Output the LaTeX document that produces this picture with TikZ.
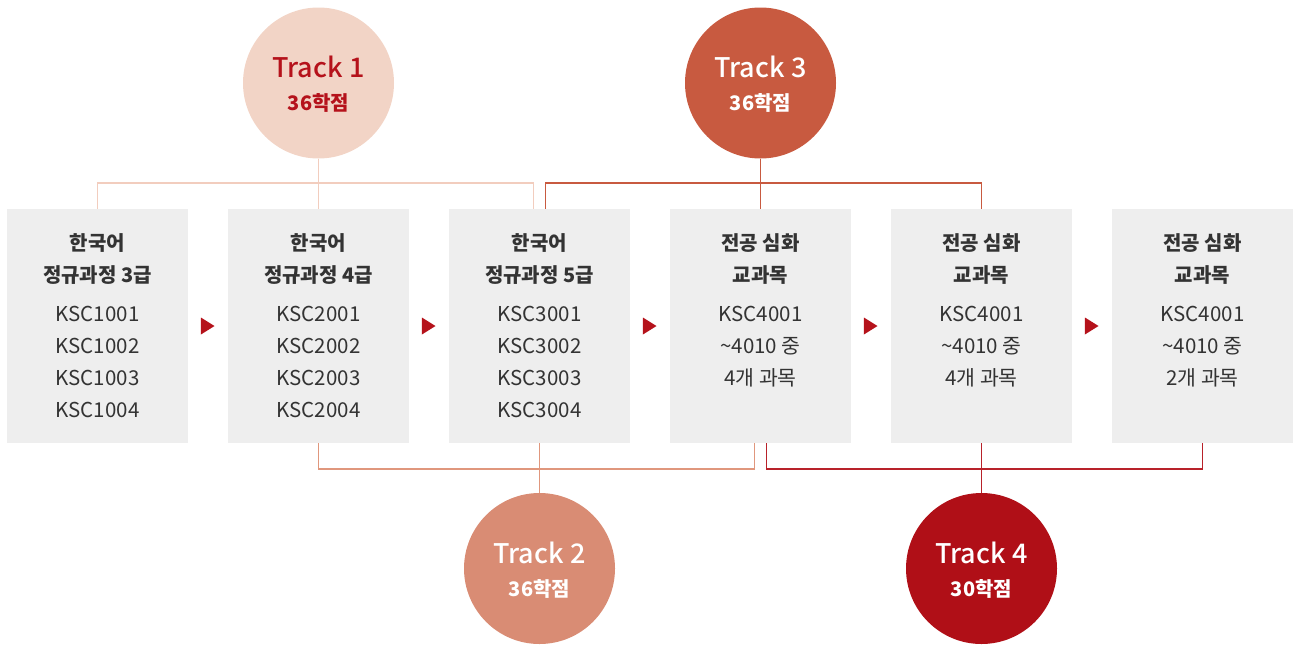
\documentclass[tikz,border=0pt]{standalone}
\usepackage{fontspec}
\setmainfont{Noto Sans CJK KR}
\newfontfamily\trackfont{Noto Sans CJK KR Medium}
\definecolor{boxgray}{HTML}{EEEEEE}
\definecolor{txtgray}{HTML}{333333}
\definecolor{tcolA}{HTML}{F2D4C6}
\definecolor{tcolB}{HTML}{D98C74}
\definecolor{tcolC}{HTML}{C85A40}
\definecolor{tcolD}{HTML}{B00F17}
\definecolor{lineA}{HTML}{F2CDBE}
\definecolor{lineB}{HTML}{E0977D}
\definecolor{lineC}{HTML}{C85A40}
\definecolor{lineD}{HTML}{B8222A}
\definecolor{arrowred}{HTML}{B5121B}
\begin{document}
\begin{tikzpicture}[x=1pt,y=-1pt,
  box/.style={fill=boxgray,draw=none,minimum width=181pt,minimum height=234pt,inner sep=0pt},
  ttl/.style={anchor=base,text=txtgray,font=\fontsize{20}{24}\selectfont\bfseries,inner sep=0pt},
  code/.style={anchor=base,text=txtgray,font=\fontsize{20.5}{24}\selectfont,inner sep=0pt},
  track/.style={circle,draw=none,minimum size=151pt,inner sep=0pt},
  trk/.style={anchor=base,font=\trackfont\fontsize{27}{30}\selectfont,inner sep=0pt},
  pts/.style={anchor=base,font=\fontsize{20}{24}\selectfont\bfseries,inner sep=0pt},
  conn/.style={line width=1.5pt}]
\useasboundingbox (0,0) rectangle (1293,646);

% boxes
\foreach \i/\x/\ta/\tb/\la/\lb/\lc/\ld in {
  1/97.5/한국어/정규과정 3급/KSC1001/KSC1002/KSC1003/KSC1004,
  2/318.5/한국어/정규과정 4급/KSC2001/KSC2002/KSC2003/KSC2004,
  3/539.5/한국어/정규과정 5급/KSC3001/KSC3002/KSC3003/KSC3004,
  4/760.5/전공 심화/교과목/KSC4001/\textasciitilde 4010 중/4개 과목/{},
  5/981.5/전공 심화/교과목/KSC4001/\textasciitilde 4010 중/4개 과목/{},
  6/1202.5/전공 심화/교과목/KSC4001/\textasciitilde 4010 중/2개 과목/{}}{
  \node[box] (b\i) at (\x,326) {};
  \node[ttl] (b\i t1) at (\x,250) {\ta};
  \node[ttl] (b\i t2) at (\x,282) {\tb};
  \node[code] (b\i c1) at (\x,321.5) {\la};
  \node[code] (b\i c2) at (\x,353.5) {\lb};
  \node[code] (b\i c3) at (\x,385.5) {\lc};
  \node[code] (b\i c4) at (\x,417.5) {\ld};
}

% arrows between boxes
\foreach \i in {1,...,5}{
  \fill[arrowred] ([xshift=12.7pt,yshift=8.5pt]b\i.east) -- ([xshift=26.3pt]b\i.east)
     -- ([xshift=12.7pt,yshift=-8.5pt]b\i.east) -- cycle;
}

% track circles
\node[track,fill=tcolA] (t1) at (318.5,83) {};
\node[trk,text=arrowred] at (318.5,77) {Track 1};
\node[pts,text=arrowred] at (318.5,110) {36학점};

\node[track,fill=tcolC] (t3) at (760.5,83) {};
\node[trk,text=white] at (760.5,77) {Track 3};
\node[pts,text=white] at (760.5,110) {36학점};

\node[track,fill=tcolB] (t2) at (539.5,568.5) {};
\node[trk,text=white] at (539.5,563) {Track 2};
\node[pts,text=white] at (539.5,596) {36학점};

\node[track,fill=tcolD] (t4) at (981.5,568.5) {};
\node[trk,text=white] at (981.5,563) {Track 4};
\node[pts,text=white] at (981.5,596) {30학점};

% connectors
\coordinate (topy) at (0,183);
\coordinate (boty) at (0,469);

\draw[conn,lineA] (b1.north) |- ([xshift=-6pt]b3.north |- topy) -- ([xshift=-6pt]b3.north);
\draw[conn,lineA] (t1.south) -- (b2.north);

\draw[conn,lineC] ([xshift=6pt]b3.north) |- (b5.north |- topy) -- (b5.north);
\draw[conn,lineC] (t3.south) -- (b4.north);

\draw[conn,lineB] (b2.south) |- ([xshift=-6pt]b4.south |- boty) -- ([xshift=-6pt]b4.south);
\draw[conn,lineB] (b3.south) -- (t2.north);

\draw[conn,lineD] ([xshift=6pt]b4.south) |- (b6.south |- boty) -- (b6.south);
\draw[conn,lineD] (b5.south) -- (t4.north);
\end{tikzpicture}
\end{document}
